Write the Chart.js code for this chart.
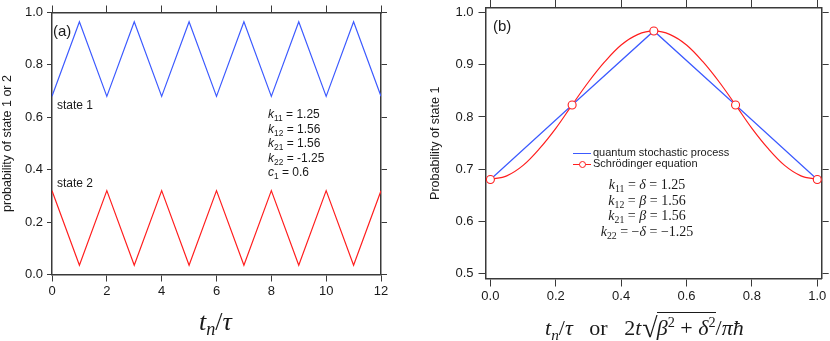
<!DOCTYPE html>
<html>
<head>
<meta charset="utf-8">
<script src="https://cdn.jsdelivr.net/npm/chart.js@4.4.0/dist/chart.umd.min.js"></script>
<style>
  html, body { margin: 0; padding: 0; background: #fff; }
  #wrap { position: relative; width: 830px; height: 341px; overflow: hidden;
          font-family: 'Liberation Sans', Arial, sans-serif; color: #1a1a1a; }
  .panel { position: absolute; top: 0; width: 415px; height: 341px; }
  #panelA { left: 0; }
  #panelB { left: 415px; }
  .lbl { position: absolute; white-space: nowrap; line-height: 1; z-index: 2; }
  .math { font-family: 'Liberation Serif', 'DejaVu Serif', serif; }
  sub { font-size: 70%; vertical-align: -0.3em; line-height: 0; }
  sup { font-size: 65%; vertical-align: 0.55em; line-height: 0; }
  .rad { font-size: 28px; vertical-align: -2px; margin-left: 1px; }
  .ov { border-top: 1.2px solid #1a1a1a; padding-top: 2px; margin-left: -1px; }
  .key { position: absolute; height: 0; width: 18px; z-index: 2; }
  .dot { position: absolute; width: 5px; height: 5px; border: 1px solid rgb(255,30,30);
         border-radius: 50%; background: #fff; z-index: 3; }
</style>
</head>
<body>
<div id="wrap">
  <div class="panel" id="panelA"><canvas id="chartA" width="415" height="341"></canvas></div>
  <div class="panel" id="panelB"><canvas id="chartB" width="415" height="341"></canvas></div>

  <!-- ── PAINEL (a) ───────────────────────────── -->
  <div class="lbl" style="left:53px; top:23px; font-size:15px;">(a)</div>
  <div class="lbl" style="left:57px; top:99px; font-size:12px;">state 1</div>
  <div class="lbl" style="left:57px; top:177px; font-size:12px;">state 2</div>
  <div class="lbl" style="left:268px; top:107px; font-size:12px; line-height:14.5px;">
    <i>k</i><sub>11</sub> = 1.25<br>
    <i>k</i><sub>12</sub> = 1.56<br>
    <i>k</i><sub>21</sub> = 1.56<br>
    <i>k</i><sub>22</sub> = -1.25<br>
    <i>c</i><sub>1</sub> = 0.6
  </div>
  <div class="lbl math" style="left:199px; top:309px; font-size:26px;">
    <i>t</i><sub><i>n</i></sub>/<i>τ</i>
  </div>

  <!-- ── PAINEL (b) ───────────────────────────── -->
  <div class="lbl" style="left:493px; top:18px; font-size:15px;">(b)</div>
  <div class="key" style="left:573px; top:153px; border-top:1px solid rgb(60,90,255);"></div>
  <div class="key" style="left:573px; top:164px; border-top:1px solid rgb(255,30,30);"></div>
  <div class="dot" style="left:578.5px; top:160.5px;"></div>
  <div class="lbl" style="left:593px; top:147px; font-size:11px;">quantum stochastic process</div>
  <div class="lbl" style="left:593px; top:158px; font-size:11px;">Schrödinger equation</div>
  <div class="lbl math" style="left:567px; top:177px; width:160px; text-align:center; font-size:14px; line-height:15.5px;">
    <i>k</i><sub>11</sub>&nbsp;=&nbsp;<i>δ</i>&nbsp;=&nbsp;1.25<br>
    <i>k</i><sub>12</sub>&nbsp;=&nbsp;<i>β</i>&nbsp;=&nbsp;1.56<br>
    <i>k</i><sub>21</sub>&nbsp;=&nbsp;<i>β</i>&nbsp;=&nbsp;1.56<br>
    <i>k</i><sub>22</sub>&nbsp;=&nbsp;−<i>δ</i>&nbsp;=&nbsp;−1.25
  </div>
  <div class="lbl math" style="left:545px; top:314px; font-size:22px;">
    <i>t</i><sub><i>n</i></sub>/<i>τ</i>&nbsp;&nbsp;&nbsp;or&nbsp;&nbsp;&nbsp;2<i>t</i><span class="rad">√</span><span class="ov"><i>β</i><sup>2</sup>&nbsp;+&nbsp;<i>δ</i><sup>2</sup></span>/<i>π</i><i>ħ</i>
  </div>
</div>

<script>
// ═══════════════════════════════════════════════════
//  DADOS
// ═══════════════════════════════════════════════════

// (a) probabilidades por passo t_n/τ
const stepsA  = [0, 1, 2, 3, 4, 5, 6, 7, 8, 9, 10, 11, 12];
const state1  = [0.68, 0.965, 0.68, 0.965, 0.68, 0.965, 0.68, 0.965, 0.68, 0.965, 0.68, 0.965, 0.68];
const state2  = [0.32, 0.035, 0.32, 0.035, 0.32, 0.035, 0.32, 0.035, 0.32, 0.035, 0.32, 0.035, 0.32];
const xTicksA = [0, 2, 4, 6, 8, 10, 12];
const yTicksA = [0, 0.2, 0.4, 0.6, 0.8, 1.0];

// (b) processo estocástico vs equação de Schrödinger
const stepsB      = [0, 0.25, 0.5, 0.75, 1.0];
const stochastic  = [0.68, 0.823, 0.965, 0.823, 0.68];
const markersSch  = [0.68, 0.823, 0.965, 0.823, 0.68];
const timeSch     = [0, 0.05, 0.1, 0.15, 0.2, 0.25, 0.3, 0.35, 0.4, 0.45, 0.5,
                     0.55, 0.6, 0.65, 0.7, 0.75, 0.8, 0.85, 0.9, 0.95, 1.0];
const schrodinger = [0.680, 0.687, 0.707, 0.739, 0.778, 0.823, 0.867, 0.906, 0.938, 0.958, 0.965,
                     0.958, 0.938, 0.906, 0.867, 0.823, 0.778, 0.739, 0.707, 0.687, 0.680];
const xTicksB = [0, 0.2, 0.4, 0.6, 0.8, 1.0];
const yTicksB = [0.5, 0.6, 0.7, 0.8, 0.9, 1.0];

// ═══════════════════════════════════════════════════
//  ESTILO
// ═══════════════════════════════════════════════════
const AXIS_COLOR = '#3a3a3a';
const TEXT_COLOR = '#1a1a1a';
const BLUE = 'rgb(60,90,255)';
const RED  = 'rgb(255,30,30)';
const FONT = "'Liberation Sans', Arial, sans-serif";

const pts = (xs, ys) => xs.map((x, i) => ({ x, y: ys[i] }));

// eixo de moldura: ticks para fora, sem grade, tamanho fixo
function frameAxis(position, o) {
  const horizontal = position === 'top' || position === 'bottom';
  return {
    type: 'linear',
    position,
    min: o.min,
    max: o.max,
    afterBuildTicks: s => { s.ticks = o.ticks.map(v => ({ value: v })); },
    afterFit: s => {
      if (horizontal) s.height = o.size; else s.width = o.size;
      // sem folga extra para rótulos nas pontas — área do gráfico fixa
      s.paddingTop = s.paddingBottom = s.paddingLeft = s.paddingRight = 0;
    },
    grid: { drawOnChartArea: false, drawTicks: true, tickLength: o.tick, color: AXIS_COLOR, lineWidth: 1 },
    border: { display: true, color: AXIS_COLOR, width: 1.5 },
    ticks: {
      display: !!o.labels,
      padding: o.pad || 0,
      color: TEXT_COLOR,
      font: { family: FONT, size: 13 },
      autoSkip: false,
      maxRotation: 0,
      callback: v => v.toFixed(o.dec || 0),
    },
    title: o.title
      ? { display: true, text: o.title, color: TEXT_COLOR, font: { family: FONT, size: 12.5 }, padding: { top: o.titlePad, bottom: 0 } }
      : { display: false },
  };
}

const baseOptions = {
  responsive: false,
  animation: false,
  devicePixelRatio: 1,
  layout: { padding: 0 },
  plugins: { legend: { display: false }, tooltip: { enabled: false } },
  elements: { point: { radius: 0 }, line: { borderWidth: 1.2 } },
};

// ── PAINEL (a) ────────────────────────────────────
new Chart(document.getElementById('chartA'), {
  type: 'line',
  data: {
    datasets: [
      { data: pts(stepsA, state1), borderColor: BLUE, tension: 0 },
      { data: pts(stepsA, state2), borderColor: RED, tension: 0 },
    ],
  },
  options: {
    ...baseOptions,
    scales: {
      x:  frameAxis('bottom', { min: 0, max: 12, ticks: xTicksA, size: 66.5, tick: 7, pad: 2, labels: true }),
      x2: frameAxis('top',    { min: 0, max: 12, ticks: xTicksA, size: 12.5, tick: 7 }),
      y:  frameAxis('left',   { min: 0, max: 1, ticks: yTicksA, size: 52, tick: 5, pad: 4, labels: true, dec: 1,
                                title: 'probability of state 1 or 2', titlePad: 0.5 }),
      y2: frameAxis('right',  { min: 0, max: 1, ticks: yTicksA, size: 34, tick: 6 }),
    },
  },
});

// ── PAINEL (b) ────────────────────────────────────
new Chart(document.getElementById('chartB'), {
  type: 'line',
  data: {
    datasets: [
      { data: pts(stepsB, markersSch), showLine: false, pointRadius: 4,
        pointBorderWidth: 1.1, pointBorderColor: RED, pointBackgroundColor: '#fff', clip: false },
      { data: pts(timeSch, schrodinger), borderColor: RED, tension: 0.35 },
      { data: pts(stepsB, stochastic), borderColor: BLUE, tension: 0 },
    ],
  },
  options: {
    ...baseOptions,
    scales: {
      x:  frameAxis('bottom', { min: -0.015, max: 1.0135, ticks: xTicksB, size: 62.5, tick: 8, pad: 2, labels: true, dec: 1 }),
      x2: frameAxis('top',    { min: -0.015, max: 1.0135, ticks: xTicksB, size: 8, tick: 8 }),
      y:  frameAxis('left',   { min: 0.49, max: 1.009, ticks: yTicksB, size: 70.5, tick: 7, pad: 5, labels: true, dec: 1,
                                title: 'Probability of state 1', titlePad: 13 }),
      y2: frameAxis('right',  { min: 0.49, max: 1.009, ticks: yTicksB, size: 8.3, tick: 7 }),
    },
  },
});
</script>
</body>
</html>
